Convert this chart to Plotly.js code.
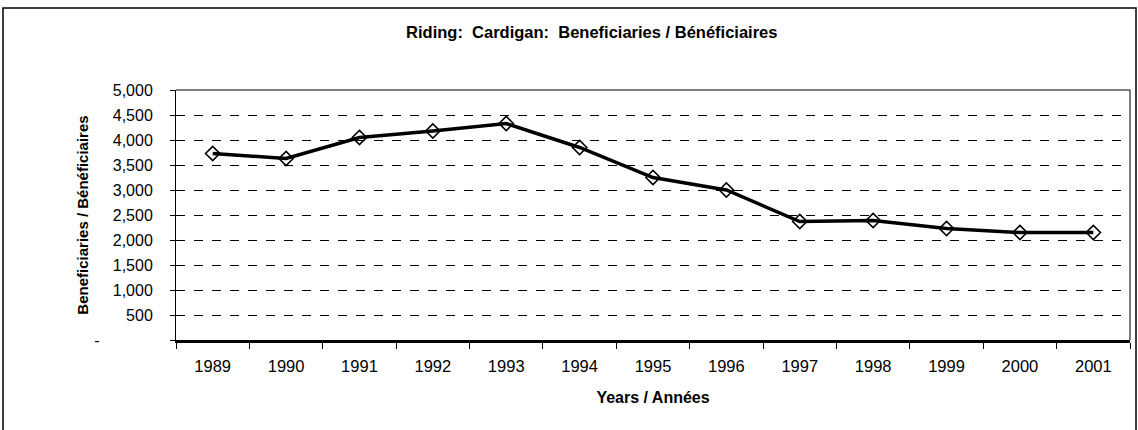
<!DOCTYPE html>
<html><head><meta charset="utf-8">
<script src="https://cdn.plot.ly/plotly-3.0.1.min.js"></script>
<style>html,body{margin:0;padding:0;background:#fff}#c{width:1138px;height:430px}</style>
</head><body><div id="c"></div>
<script>
const years = ['1989','1990','1991','1992','1993','1994','1995','1996','1997','1998','1999','2000','2001'];
const beneficiaries = [3730, 3630, 4050, 4180, 4330, 3850, 3250, 3000, 2370, 2390, 2230, 2150, 2150];
const yTickVals = [0, 500, 1000, 1500, 2000, 2500, 3000, 3500, 4000, 4500, 5000];
const yTickText = ['-\u00a0\u00a0\u00a0\u00a0\u00a0\u00a0\u00a0\u00a0\u00a0\u00a0\u00a0\u00a0', '500', '1,000', '1,500', '2,000', '2,500', '3,000', '3,500', '4,000', '4,500', '5,000'];

const arial = '"Liberation Sans", Arial, sans-serif';
const trace = {
  x: years, y: beneficiaries, type: 'scatter', mode: 'lines+markers',
  line: {color: '#000', width: 3.5},
  marker: {symbol: 'diamond-open', size: 11, color: '#000', line: {color: '#000', width: 1.6}},
  hoverinfo: 'skip'
};
const layout = {
  width: 1138, height: 430,
  margin: {l: 176, r: 8, t: 90, b: 90},
  paper_bgcolor: '#fff', plot_bgcolor: '#fff',
  showlegend: false,
  title: {text: '<b>Riding:  Cardigan:  Beneficiaries / Bénéficiaires</b>', x: 0.52, xanchor: 'center', y: 0.925, yanchor: 'middle',
          font: {family: arial, size: 16.5, color: '#000'}},
  xaxis: {
    type: 'category', tickson: 'boundaries', ticks: 'outside', ticklen: 6, tickcolor: '#000', tickwidth: 1,
    showline: true, linecolor: '#000', linewidth: 2.5, mirror: false, showgrid: false, zeroline: false,
    tickfont: {family: arial, size: 16.5, color: '#000'}, ticklabelstandoff: 10,
    title: {text: '<b>Years / Années</b>', font: {family: arial, size: 16, color: '#000'}, standoff: 18},
    range: [-0.5, 12.5], fixedrange: true
  },
  yaxis: {
    range: [0, 5000], tickvals: yTickVals, ticktext: yTickText, ticks: 'outside', ticklen: 5, tickcolor: '#000',
    showline: true, linecolor: '#000', linewidth: 1, mirror: false, ticklabelstandoff: 14,
    showgrid: true, gridcolor: '#000', gridwidth: 1, griddash: 'dash', zeroline: false,
    tickfont: {family: arial, size: 16, color: '#000'},
    title: {text: '<b>Beneficiaries / Bénéficiaires</b>', font: {family: arial, size: 15, color: '#000'}, standoff: 1},
    fixedrange: true
  },
  shapes: [
    {type: 'line', xref: 'paper', yref: 'paper', x0: 0, x1: 1, y0: 1, y1: 1, line: {color: '#000', width: 1}},
    {type: 'line', xref: 'paper', yref: 'paper', x0: 1, x1: 1, y0: 0, y1: 1, line: {color: '#000', width: 1}},
    {type: 'rect', xref: 'paper', yref: 'paper', x0: -173/954, x1: 1 + 6/954, y0: -1.2, y1: 1 + 82/250,
     line: {color: '#000', width: 1.5}, layer: 'below'}
  ]
};
Plotly.newPlot('c', [trace], layout, {staticPlot: true});
</script></body></html>
